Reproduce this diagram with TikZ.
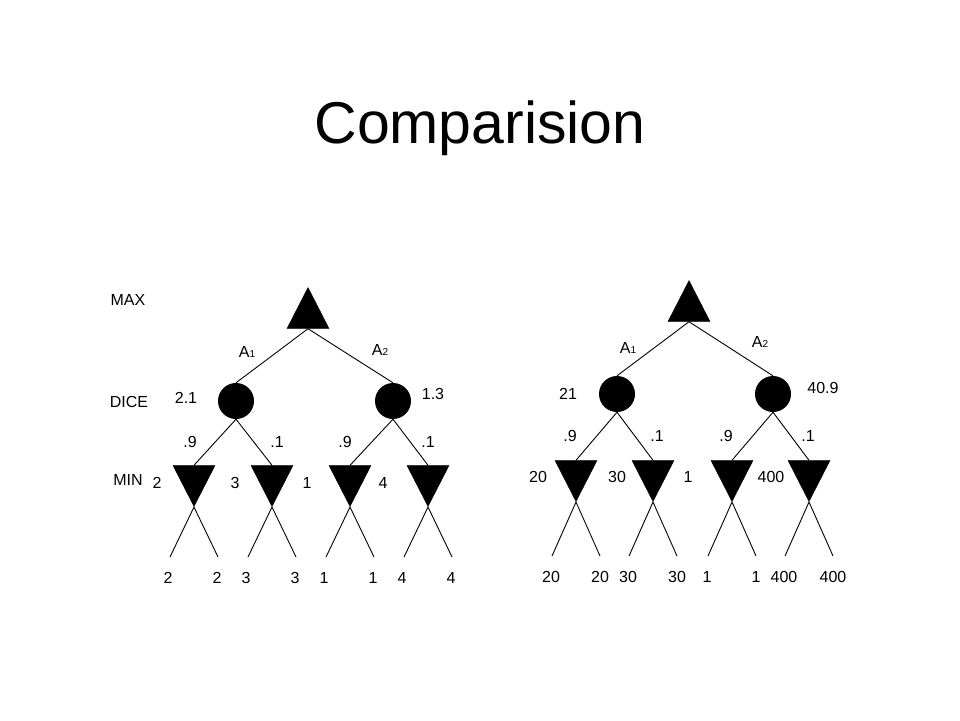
\documentclass[tikz,border=0pt]{standalone}
\usepackage{fontspec}
\setmainfont{Liberation Sans}
\usetikzlibrary{shapes.geometric}

\begin{document}
\begin{tikzpicture}[x=1pt, y=-1pt,
        maxnode/.style={isosceles triangle, isosceles triangle stretches, shape border rotate=90,
        fill=black, draw=black, minimum width=42pt, minimum height=41pt, inner sep=0pt, anchor=apex},
        minnode/.style={maxnode, shape border rotate=270},
        dicenode/.style={circle, fill=black, minimum size=36pt, inner sep=0pt},
        lbl/.style={font=\fontsize{16}{19}\selectfont, inner sep=0pt},
        edge/.style={draw=black, line width=0.9pt}]
    \useasboundingbox (0,0) rectangle (960,720);
    \node (title) at (480,128) {\fontsize{59}{70}\selectfont Comparision};
    % row labels
    \node [lbl] (maxlbl) at (128,300) {MAX};
    \node [lbl] (dicelbl) at (129,402) {DICE};
    \node [lbl] (minlbl) at (128,480) {MIN};
    % left tree
    \node [maxnode] (maxL) at (308,287) {};
    \node [dicenode] (dL1) at (236,401) {};
    \node [dicenode] (dL2) at (393,401) {};
    \node [minnode] (mL1) at (194,507) {};
    \node [minnode] (mL2) at (272,507) {};
    \node [minnode] (mL3) at (350,507) {};
    \node [minnode] (mL4) at (428,507) {};
    \draw [edge] (maxL.south) -- (dL1.north);
    \draw [edge] (maxL.south) -- (dL2.north);
    \draw [edge] (dL1.south) -- (mL1.north);
    \draw [edge] (dL1.south) -- (mL2.north);
    \draw [edge] (dL2.south) -- (mL3.north);
    \draw [edge] (dL2.south) -- (mL4.north);
    \node [lbl] (aL1) at (247,352) {A{\fontsize{10}{10}\selectfont 1}};
    \node [lbl] (aL2) at (380,350) {A{\fontsize{10}{10}\selectfont 2}};
    \node [lbl] (vL1) at (186,398) {2.1};
    \node [lbl] (vL2) at (433,394) {1.3};
    \node [lbl] (pL1) at (190,442) {.9};
    \node [lbl] (pL2) at (277,442) {.1};
    \node [lbl] (pL3) at (345,442) {.9};
    \node [lbl] (pL4) at (428,442) {.1};
    \node [lbl] (wL1) at (157,483) {2};
    \node [lbl] (wL2) at (235,483) {3};
    \node [lbl] (wL3) at (307,483) {1};
    \node [lbl] (wL4) at (383,483) {4};
    \foreach \m/\v in {mL1/2, mL2/3, mL3/1, mL4/4} {
        \coordinate (\m a) at ([shift={(-24,50)}]\m.apex);
        \coordinate (\m b) at ([shift={(24,50)}]\m.apex);
        \draw [edge] (\m a) -- (\m.apex) -- (\m b);
        \node [lbl] (\m la) at ([shift={(-2,21)}]\m a) {\v};
        \node [lbl] (\m lb) at ([shift={(-1,21)}]\m b) {\v};
    }
    % right tree
    \node [maxnode] (maxR) at (689,280) {};
    \node [dicenode] (dR1) at (617,394) {};
    \node [dicenode] (dR2) at (773,394) {};
    \node [minnode] (mR1) at (576,502) {};
    \node [minnode] (mR2) at (653,502) {};
    \node [minnode] (mR3) at (732,502) {};
    \node [minnode] (mR4) at (809,502) {};
    \draw [edge] (maxR.south) -- (dR1.north);
    \draw [edge] (maxR.south) -- (dR2.north);
    \draw [edge] (dR1.south) -- (mR1.north);
    \draw [edge] (dR1.south) -- (mR2.north);
    \draw [edge] (dR2.south) -- (mR3.north);
    \draw [edge] (dR2.south) -- (mR4.north);
    \node [lbl] (aR1) at (628,348) {A{\fontsize{10}{10}\selectfont 1}};
    \node [lbl] (aR2) at (760,342) {A{\fontsize{10}{10}\selectfont 2}};
    \node [lbl] (vR1) at (568,394) {21};
    \node [lbl] (vR2) at (823,388) {40.9};
    \node [lbl] (pR1) at (570,436) {.9};
    \node [lbl] (pR2) at (657,436) {.1};
    \node [lbl] (pR3) at (726,436) {.9};
    \node [lbl] (pR4) at (808,436) {.1};
    \node [lbl] (wR1) at (538,477) {20};
    \node [lbl] (wR2) at (617,477) {30};
    \node [lbl] (wR3) at (688,477) {1};
    \node [lbl] (wR4) at (771,477) {400};
    \foreach \m/\v in {mR1/20, mR2/30, mR3/1, mR4/400} {
        \coordinate (\m a) at ([shift={(-24,54)}]\m.apex);
        \coordinate (\m b) at ([shift={(24,54)}]\m.apex);
        \draw [edge] (\m a) -- (\m.apex) -- (\m b);
        \node [lbl] (\m la) at ([shift={(-1,21)}]\m a) {\v};
        \node [lbl] (\m lb) at ([shift={(0,21)}]\m b) {\v};
    }
\end{tikzpicture}
\end{document}
